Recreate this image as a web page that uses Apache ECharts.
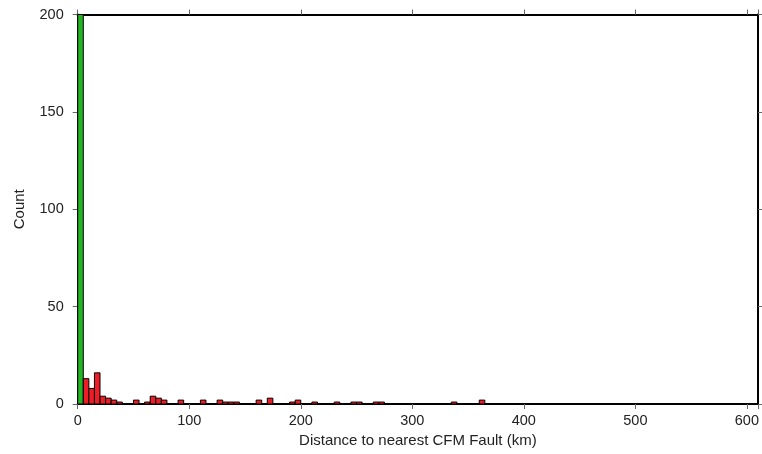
<!DOCTYPE html>
<html>
<head>
<meta charset="utf-8">
<script src="https://cdn.jsdelivr.net/npm/echarts@6/dist/echarts.min.js"></script>
<style>
  html, body { margin: 0; padding: 0; background: #fff; }
  #chart { width: 762px; height: 454px; }
</style>
</head>
<body>
<div id="chart"></div>
<script>
// Histogram bins of 5 km: bin start (km) and count
const binWidth = 5;
const greenStarts = [0];
const greenCounts = [260]; // exceeds the 200 axis limit, clipped
const redStarts = [5, 10, 15, 20, 25, 30, 35, 50, 60, 65, 70, 75, 90, 110, 125, 130, 135, 140, 160, 170, 190, 195, 210, 230, 245, 250, 265, 270, 335, 360];
const redCounts = [13, 8, 16, 4, 3, 2, 1, 2, 1, 4, 3, 2, 2, 2, 2, 1, 1, 1, 2, 3, 1, 2, 1, 1, 1, 1, 1, 1, 1, 2];
const xTicks = [0, 100, 200, 300, 400, 500, 600];
const yTicks = [0, 50, 100, 150, 200];

const xMax = 610, yMax = 200;

function toData(starts, counts) {
  return starts.map((s, i) => [s, s + binWidth, counts[i]]);
}

function makeRender(color) {
  return function (params, api) {
    const x0 = api.value(0), x1 = api.value(1), y = api.value(2);
    const p0 = api.coord([x0, 0]);
    const p1 = api.coord([x1, y]);
    const cs = params.coordSys;
    const rect = echarts.graphic.clipRectByRect(
      { x: p0[0], y: p1[1], width: p1[0] - p0[0], height: p0[1] - p1[1] },
      { x: cs.x, y: cs.y, width: cs.width, height: cs.height }
    );
    return rect && {
      type: 'rect',
      shape: rect,
      style: { fill: color, stroke: '#000', lineWidth: 1 }
    };
  };
}

const font = 'Liberation Sans, Arial, Helvetica, sans-serif';
const tickStyle = { show: true, inside: false, length: 5, lineStyle: { color: '#666', width: 1 } };
const lineStyle = { show: true, onZero: false, lineStyle: { color: '#000', width: 2 } };

const chart = echarts.init(document.getElementById('chart'), null, { renderer: 'canvas' });
chart.setOption({
  animation: false,
  backgroundColor: '#fff',
  grid: { left: 77.7, right: 762 - 758.5, top: 14.5, bottom: 50, containLabel: false },
  xAxis: [
    {
      type: 'value', position: 'bottom', min: 0, max: xMax, interval: 100,
      axisLine: lineStyle, axisTick: tickStyle, splitLine: { show: false },
      axisLabel: {
        margin: 9, fontSize: 14.5, color: '#222', fontFamily: font,
        formatter: v => (xTicks.indexOf(v) >= 0 ? String(v) : '')
      },
      name: 'Distance to nearest CFM Fault (km)', nameLocation: 'middle', nameGap: 28,
      nameTextStyle: { fontSize: 15, color: '#222', fontFamily: font }
    },
    {
      type: 'value', position: 'top', min: 0, max: xMax, interval: 100,
      axisLine: lineStyle, axisTick: tickStyle, splitLine: { show: false },
      axisLabel: { show: false }
    }
  ],
  yAxis: [
    {
      type: 'value', position: 'left', min: 0, max: yMax, interval: 50,
      axisLine: lineStyle, axisTick: tickStyle, splitLine: { show: false },
      axisLabel: {
        margin: 14, fontSize: 14.5, color: '#222', fontFamily: font,
        formatter: v => (yTicks.indexOf(v) >= 0 ? String(v) : '')
      },
      name: 'Count', nameLocation: 'middle', nameGap: 50,
      nameTextStyle: { fontSize: 15, color: '#222', fontFamily: font }
    },
    {
      type: 'value', position: 'right', min: 0, max: yMax, interval: 50,
      axisLine: lineStyle, axisTick: tickStyle, splitLine: { show: false },
      axisLabel: { show: false }
    }
  ],
  series: [
    {
      type: 'custom', name: 'near', xAxisIndex: 0, yAxisIndex: 0,
      encode: { x: [0, 1], y: 2 },
      renderItem: makeRender('#22b422'),
      data: toData(greenStarts, greenCounts)
    },
    {
      type: 'custom', name: 'far', xAxisIndex: 0, yAxisIndex: 0,
      encode: { x: [0, 1], y: 2 },
      renderItem: makeRender('#ee1c24'),
      data: toData(redStarts, redCounts)
    }
  ]
});
</script>
</body>
</html>
